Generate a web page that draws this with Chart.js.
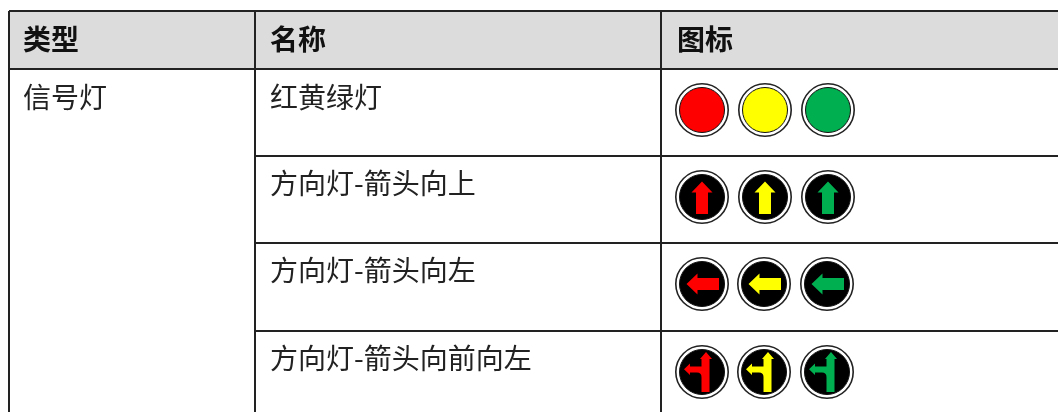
<!DOCTYPE html>
<html>
<head>
<meta charset="utf-8">
<style>
    html, body { margin: 0; padding: 0; background: #fff; }
    canvas { display: block; }
</style>
<script src="https://cdn.jsdelivr.net/npm/chart.js@4/dist/chart.umd.min.js"></script>
</head>
<body>
<canvas id="tabla" width="1058" height="412"></canvas>
<script>
    // Table content
    const headers = ['类型', '名称', '图标'];
    const tipos = ['信号灯'];
    const nombres = ['红黄绿灯', '方向灯-箭头向上', '方向灯-箭头向左', '方向灯-箭头向前向左'];
    const iconos = ['solid', 'up', 'left', 'forwardLeft'];
    const colores = ['#ff0000', '#ffff00', '#00b050'];

    // Axis ticks: the table rules
    const columnEdges = [9, 255, 661];
    const headerEdges = [11, 69];
    const rowRules = [156, 243, 331];

    // Where the cells put their content
    const textColumns = [23, 270, 677];
    const headerRow = 39;
    const textRows = [97, 183, 270, 358];
    const iconColumns = [[702, 765, 828], [702, 765, 828], [702, 764, 827], [702, 764, 827]];
    const iconRows = [110, 197, 284, 372];

    function trazarFlecha(ctx, tipo) {
        ctx.beginPath();
        if (tipo === 'up' || tipo === 'left') {
            if (tipo === 'left') ctx.rotate(-Math.PI / 2);
            ctx.moveTo(0, -15.5);
            ctx.lineTo(10.5, -4.5);
            ctx.lineTo(6, -4.5);
            ctx.lineTo(6, 17);
            ctx.lineTo(-6, 17);
            ctx.lineTo(-6, -4.5);
            ctx.lineTo(-10.5, -4.5);
        } else {
            ctx.moveTo(4, -20);
            ctx.lineTo(10, -13);
            ctx.lineTo(7.5, -13);
            ctx.lineTo(7.5, 20);
            ctx.lineTo(-0.5, 20);
            ctx.lineTo(-0.5, 5);
            ctx.quadraticCurveTo(-0.5, 0.5, -5, 0.5);
            ctx.lineTo(-12, 0.5);
            ctx.lineTo(-12, 3);
            ctx.lineTo(-18, -2.7);
            ctx.lineTo(-12, -8.5);
            ctx.lineTo(-12, -5.5);
            ctx.lineTo(-0.5, -5.5);
            ctx.lineTo(-0.5, -13);
            ctx.lineTo(-2, -13);
        }
        ctx.closePath();
        ctx.fill();
    }

    function crearIcono(tipo, color) {
        const lienzo = document.createElement('canvas');
        lienzo.width = 56;
        lienzo.height = 56;
        const ctx = lienzo.getContext('2d');
        ctx.translate(28, 28);

        ctx.beginPath();
        ctx.arc(0, 0, 26.2, 0, Math.PI * 2);
        ctx.fillStyle = '#fff';
        ctx.fill();
        ctx.lineWidth = 1.6;
        ctx.strokeStyle = '#222';
        ctx.stroke();

        ctx.beginPath();
        ctx.arc(0, 0, 22.5, 0, Math.PI * 2);
        ctx.fillStyle = tipo === 'solid' ? color : '#000';
        ctx.fill();
        ctx.lineWidth = 1;
        ctx.strokeStyle = '#111';
        ctx.stroke();

        if (tipo !== 'solid') {
            ctx.fillStyle = color;
            trazarFlecha(ctx, tipo);
        }
        return lienzo;
    }

    const textosTabla = {
        id: 'textosTabla',
        afterDraw(chart) {
            const { ctx, scales: { x, y } } = chart;
            const fuente = '"Noto Sans CJK SC", "Noto Sans", sans-serif';
            ctx.save();
            ctx.textBaseline = 'middle';
            ctx.textAlign = 'left';

            ctx.font = 'bold 28px ' + fuente;
            ctx.fillStyle = '#111';
            headers.forEach((h, i) => ctx.fillText(h, x.getPixelForValue(textColumns[i]), y.getPixelForValue(headerRow)));

            ctx.font = '28px ' + fuente;
            ctx.fillStyle = '#222';
            tipos.forEach((t, i) => ctx.fillText(t, x.getPixelForValue(textColumns[0]), y.getPixelForValue(textRows[i])));
            nombres.forEach((n, i) => ctx.fillText(n, x.getPixelForValue(textColumns[1]), y.getPixelForValue(textRows[i])));
            ctx.restore();
        }
    };

    const datosIconos = iconos.map((tipo, fila) => ({
        type: 'scatter',
        label: nombres[fila],
        data: iconColumns[fila].map(cx => ({ x: cx, y: iconRows[fila] })),
        pointStyle: colores.map(c => crearIcono(tipo, c)),
        pointRadius: 28,
        showLine: false
    }));

    // Header band
    const bandaCabecera = {
        type: 'line',
        label: 'cabecera',
        data: [
            { x: columnEdges[0], y: headerEdges[1] },
            { x: 1058, y: headerEdges[1] }
        ],
        pointRadius: 0,
        borderWidth: 0,
        backgroundColor: '#dcdcdc',
        fill: { value: headerEdges[0] }
    };

    // The type column spans every row, so these rules stop at its right edge
    const reglasFilas = rowRules.map(r => ({
        type: 'line',
        label: 'fila ' + r,
        data: [
            { x: columnEdges[1], y: r },
            { x: 1058, y: r }
        ],
        pointRadius: 0,
        borderWidth: 2,
        borderColor: '#222'
    }));

    function ejeTabla(min, max, edges, reverse) {
        return {
            type: 'linear',
            min: min,
            max: max,
            reverse: reverse,
            border: { display: false },
            ticks: { display: false },
            grid: { color: '#222', lineWidth: 2, drawTicks: false, z: 1 },
            afterBuildTicks(scale) {
                scale.ticks = edges.map(v => ({ value: v }));
            }
        };
    }

    new Chart(document.getElementById('tabla'), {
        data: { datasets: [bandaCabecera, ...reglasFilas, ...datosIconos] },
        options: {
            responsive: false,
            animation: false,
            layout: { autoPadding: false, padding: { left: columnEdges[0], top: headerEdges[0], right: 0, bottom: 0 } },
            plugins: { legend: { display: false }, tooltip: { enabled: false } },
            scales: {
                x: ejeTabla(columnEdges[0], 1058, columnEdges, false),
                y: ejeTabla(headerEdges[0], 412, headerEdges, true)
            }
        },
        plugins: [textosTabla]
    });
</script>
</body>
</html>
